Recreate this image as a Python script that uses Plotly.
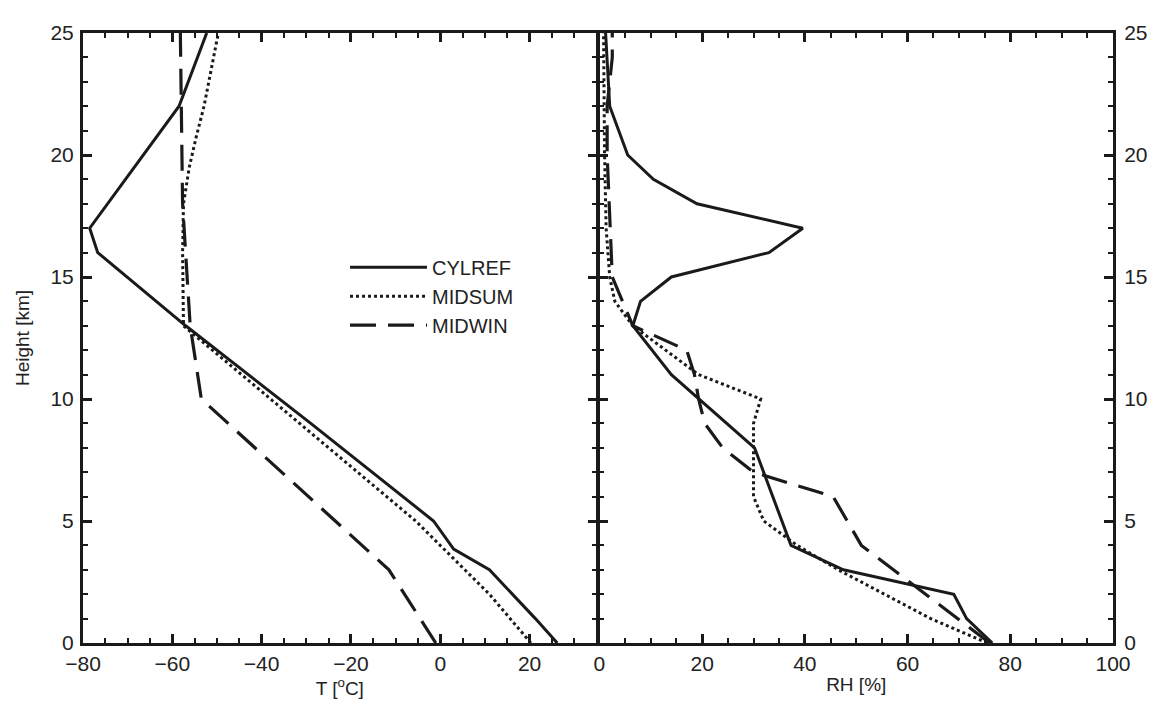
import plotly.graph_objects as go
from plotly.subplots import make_subplots

# ---------------- data ----------------
# Temperature profiles [deg C] vs height [km]
cylref_t_h = [0, 1, 3, 3.85, 5, 9, 13, 16, 17, 22, 25]
cylref_t = [26.2, 21.3, 11, 3, -1.5, -29, -57, -76.7, -78.5, -58.5, -52.3]

midsum_t_h = [0, 2, 3, 4, 5, 13, 16, 18, 19.5, 20.7, 22, 23.4, 25]
midsum_t = [20.3, 11, 5.5, 0, -5.5, -57.5, -57.7, -57.5, -56.2, -54.7, -52.9, -51.4, -49.7]

midwin_t_h = [0, 3, 10, 13, 18, 25]
midwin_t = [-1, -11.5, -53.5, -56, -57.7, -58.2]

# Relative humidity profiles [%] vs height [km]
cylref_rh_h = [0, 1, 2, 3, 4, 5, 8, 11, 13, 14, 15, 16, 17, 18, 19, 20, 22, 25]
cylref_rh = [76.5, 71.5, 69, 47.5, 37.3, 35.5, 30.2, 14, 6.5, 8, 14, 33, 39.6, 19, 10.5, 5.5, 2, 1.2]

midsum_rh_h = [0, 1, 2, 3, 4, 5, 6, 9, 10, 11, 13, 14, 15, 17, 20, 25]
midsum_rh = [75.5, 64.5, 55.5, 46.5, 38.5, 32, 30, 30, 31.4, 19.3, 6.5, 3, 2, 1.3, 1.0, 0.8]

midwin_rh_h = [0, 4, 6, 7, 8, 9, 10, 11, 12, 13, 15, 20, 22, 24, 25]
midwin_rh = [76, 51, 45.5, 30, 24, 20.5, 19.3, 18.5, 17, 6.5, 2.5, 1.5, 1.5, 2.5, 2.5]

t_ticks = [-80, -60, -40, -20, 0, 20]
rh_ticks = [0, 20, 40, 60, 80, 100]
h_ticks = [0, 5, 10, 15, 20, 25]

# ---------------- styling ----------------
INK = "#1a1a1a"
FONT = "Liberation Sans, Arial, Helvetica, sans-serif"
styles = {
    "CYLREF": dict(color=INK, width=3, dash="solid"),
    "MIDSUM": dict(color=INK, width=3, dash="dot"),
    "MIDWIN": dict(color=INK, width=3.2, dash="26px,12px"),
}

fig = make_subplots(rows=1, cols=2, shared_yaxes=False, horizontal_spacing=0)

series_t = [("CYLREF", cylref_t, cylref_t_h), ("MIDSUM", midsum_t, midsum_t_h), ("MIDWIN", midwin_t, midwin_t_h)]
series_rh = [("CYLREF", cylref_rh, cylref_rh_h), ("MIDSUM", midsum_rh, midsum_rh_h), ("MIDWIN", midwin_rh, midwin_rh_h)]

for name, xs, hs in series_t:
    fig.add_trace(go.Scatter(x=xs, y=hs, mode="lines", name=name, line=styles[name],
                             showlegend=True), row=1, col=1)
for name, xs, hs in series_rh:
    fig.add_trace(go.Scatter(x=xs, y=hs, mode="lines", name=name, line=styles[name],
                             showlegend=False), row=1, col=2)

axis_common = dict(
    showline=True, linewidth=3, linecolor=INK, mirror="ticks",
    ticks="inside", ticklen=9, tickwidth=2.5, tickcolor=INK,
    showgrid=False, zeroline=False,
    tickfont=dict(family=FONT, size=21, color="#222"),
)

fig.update_xaxes(axis_common, row=1, col=1)
fig.update_xaxes(axis_common, row=1, col=2)
fig.update_yaxes(axis_common, row=1, col=1)
fig.update_yaxes(axis_common, row=1, col=2)

minor_x = dict(dtick=5, tick0=0, ticks="inside", ticklen=5, tickwidth=2, tickcolor=INK)
minor_y = dict(dtick=1, tick0=0, ticks="inside", ticklen=5, tickwidth=2, tickcolor=INK)

fig.update_layout(
    width=1159, height=706,
    paper_bgcolor="white", plot_bgcolor="white",
    margin=dict(l=75, r=54, t=25, b=71),
    font=dict(family=FONT, size=20, color="#222"),
    xaxis=dict(domain=[0, 0.4986], range=[-80, 35], tickvals=t_ticks, minor=minor_x,
               title=dict(text="T [<sup>o</sup>C]", font=dict(size=19), standoff=4)),
    xaxis2=dict(domain=[0.5014, 1], range=[0, 100], tickvals=rh_ticks, minor=minor_x,
                title=dict(text="RH [%]", font=dict(size=19), standoff=4)),
    yaxis=dict(range=[0, 25], tickvals=h_ticks, minor=minor_y, ticklabelstandoff=2,
               title=dict(text="Height [km]", font=dict(size=19), standoff=16)),
    yaxis2=dict(range=[0, 25], tickvals=h_ticks, side="right", showticklabels=True,
                minor=minor_y, ticklabelstandoff=4),
    legend=dict(x=0.2544, y=0.648, xanchor="left", yanchor="top",
                bgcolor="rgba(0,0,0,0)", borderwidth=0, itemwidth=77,
                font=dict(family=FONT, size=20, color="#222"),
                tracegroupgap=0),
)

fig.write_html("out.html")
